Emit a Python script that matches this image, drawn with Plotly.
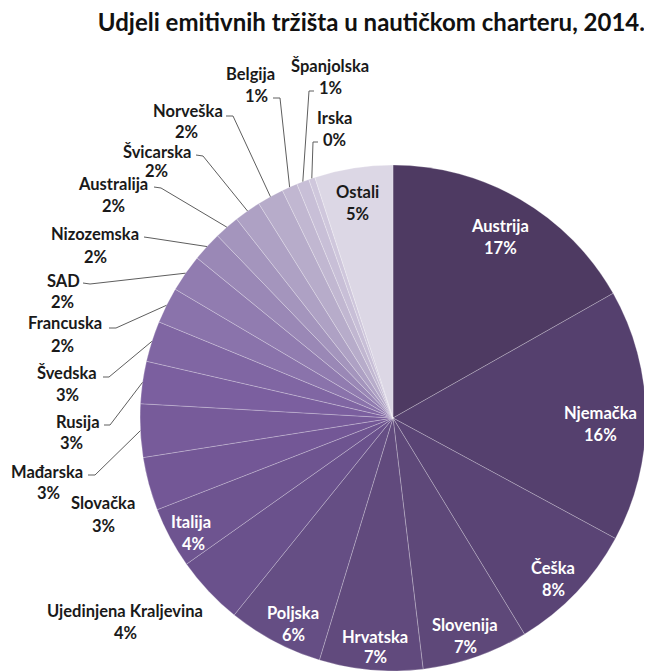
import math
import plotly.graph_objects as go

# page body has an 8px margin, so the figure is drawn 8px smaller and
# reference pixel coordinates are shifted by OFF
OFF = 8
W, H = 652 - OFF, 671 - OFF

# ─── Data ────────────────────────────────────────────────────────────
countries = ["Austrija", "Njemačka", "Češka", "Slovenija", "Hrvatska", "Poljska",
             "Ujedinjena Kraljevina", "Italija", "Slovačka", "Mađarska", "Rusija",
             "Švedska", "Francuska", "SAD", "Nizozemska", "Australija", "Švicarska",
             "Norveška", "Belgija", "Španjolska", "Irska", "Ostali"]
shares = [16.8, 16.1, 8.4, 6.8, 6.6, 6.1,
          4.4, 3.9, 3.4, 3.4, 2.7,
          2.6, 2.3, 2.4, 1.9, 1.6, 1.7,
          1.7, 1.0, 0.8, 0.4, 5.0]

colors = ["#4e3a62", "#55406e", "#5a4475", "#5e4879", "#614a7d", "#654e84",
          "#6a518c", "#6e5490", "#735796", "#775b9a", "#7b5f9f",
          "#8066a3", "#8a73ab", "#917cb0", "#9a88b6", "#a495bd", "#aea1c4",
          "#b7acca", "#c1b7d1", "#c8bfd7", "#cfc7dc", "#dcd7e5"]

# pie geometry (reference pixels)
CX, CY, R = 393, 418, 253

# label placement (name x, name y, pct x, pct y) in reference pixels
label_pos = {
    "Austrija": (500, 226, 500, 248),
    "Njemačka": (600, 413, 600, 435),
    "Češka": (553, 568, 553, 590),
    "Slovenija": (465, 625, 465, 647),
    "Hrvatska": (375, 637, 375, 657),
    "Poljska": (293, 613, 293, 635),
    "Italija": (191, 522, 193, 544),
    "Ostali": (357, 192, 357, 214),
    "Ujedinjena Kraljevina": (125, 611, 125, 633),
    "Slovačka": (103, 503, 103, 526),
    "Mađarska": (47, 472, 48, 493),
    "Rusija": (78, 422, 72, 443),
    "Švedska": (67, 373, 67, 395),
    "Francuska": (65, 323, 62, 346),
    "SAD": (63, 281, 62, 302),
    "Nizozemska": (95, 234, 95, 257),
    "Australija": (113, 184, 113, 206),
    "Švicarska": (157, 152, 156, 171),
    "Norveška": (188, 111, 186, 132),
    "Belgija": (250, 74, 256, 96),
    "Španjolska": (330, 66, 330, 88),
    "Irska": (334, 118, 334, 140),
}
inside_white = {"Austrija", "Njemačka", "Češka", "Slovenija", "Hrvatska", "Poljska", "Italija"}

# leader lines: start point next to the label, elbow point (reference pixels)
leaders = {
    "Norveška": ((226, 116), (233, 116)),
    "Švicarska": ((196, 155), (203, 156)),
    "Australija": ((154, 187), (161, 188)),
    "Nizozemska": ((144, 237), (151, 238)),
    "SAD": ((83, 283), (90, 284)),
    "Francuska": ((109, 328), (116, 328)),
    "Švedska": ((103, 377), (109, 377)),
    "Rusija": ((104, 425), (110, 425)),
    "Mađarska": ((88, 475), (95, 475)),
    "Belgija": ((273, 98), (280, 98)),
    "Španjolska": ((314, 91), (309, 91)),
    "Irska": ((318, 142), (313, 142)),
}


def px(x):
    return (x - OFF) / W


def py(y):
    return 1 - (y - OFF) / H


total = sum(shares)
fig = go.Figure(go.Pie(
    labels=countries, values=shares, sort=False,
    direction="clockwise", rotation=0,
    textinfo="none", hoverinfo="label+percent",
    marker=dict(colors=colors, line=dict(color="rgba(255,255,255,0.3)", width=0.8)),
    domain=dict(x=[px(CX - R), px(CX + R)], y=[max(0, py(CY + R)), py(CY - R)]),
    showlegend=False,
))

FONT = "Lato, 'Open Sans', sans-serif"
annotations = []
shapes = []
cum = 0.0
for name, v in zip(countries, shares):
    mid = (cum + v / 2) / total * 2 * math.pi
    cum += v
    pct = f"{round(v / total * 100)}%"
    nx, ny, qx, qy = label_pos[name]
    col = "white" if name in inside_white else "#1a1a1a"
    for txt, x, y in ((name, nx, ny), (pct, qx, qy)):
        annotations.append(dict(
            text=txt, x=px(x), y=py(y), xref="paper", yref="paper",
            xanchor="center", yanchor="middle", showarrow=False,
            font=dict(family=FONT, size=16.5, color=col, weight="bold"),
        ))
    if name in leaders:
        (x1, y1), (x2, y2) = leaders[name]
        x3 = CX + R * math.sin(mid)
        y3 = CY - R * math.cos(mid)
        shapes.append(dict(
            type="path", xref="paper", yref="paper",
            path=f"M {px(x1)},{py(y1)} L {px(x2)},{py(y2)} L {px(x3)},{py(y3)}",
            line=dict(color="#5e5e5e", width=1),
        ))

fig.update_layout(
    width=W, height=H,
    margin=dict(l=0, r=0, t=0, b=0),
    paper_bgcolor="white", plot_bgcolor="white",
    title=dict(
        text="Udjeli emitivnih tržišta u nautičkom charteru, 2014.",
        xref="container", yref="container",
        x=px(645), xanchor="right", y=py(23), yanchor="middle",
        font=dict(family=FONT, size=24, color="#111111", weight="bold"),
    ),
    annotations=annotations,
    shapes=shapes,
)

fig.write_html("out.html")
